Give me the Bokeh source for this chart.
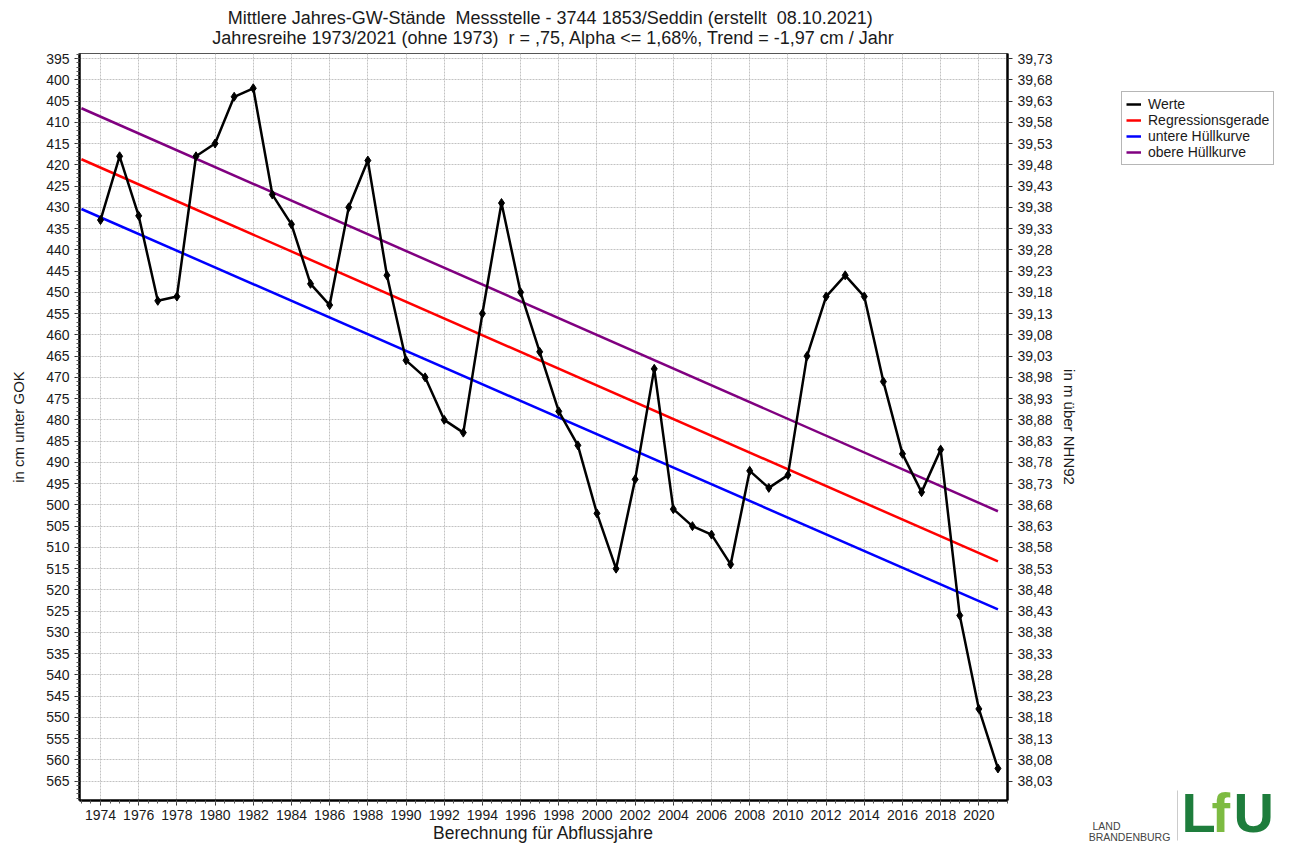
import numpy as np
from bokeh.plotting import figure
from bokeh.layouts import column, row
from bokeh.models import Range1d, LinearAxis, FixedTicker, Label, Legend, LegendItem, BoxAnnotation
from bokeh.embed import file_html
from bokeh.resources import INLINE

# ---------------- data ----------------
years = [1974, 1975, 1976, 1977, 1978, 1979, 1980, 1981, 1982, 1983,
         1984, 1985, 1986, 1987, 1988, 1989, 1990, 1991, 1992, 1993,
         1994, 1995, 1996, 1997, 1998, 1999, 2000, 2001, 2002, 2003,
         2004, 2005, 2006, 2007, 2008, 2009, 2010, 2011, 2012, 2013,
         2014, 2015, 2016, 2017, 2018, 2019, 2020, 2021]
werte_cm = [433, 418, 432, 452, 451, 418, 415, 404, 402, 427,
            434, 448, 453, 430, 419, 446, 466, 470, 480, 483,
            455, 429, 450, 464, 478, 486, 502, 515, 494, 468,
            501, 505, 507, 514, 492, 496, 493, 465, 451, 446,
            451, 471, 488, 497, 487, 526, 548, 562]

trend_years = [1973, 2021]
regression_cm = [418.7, 513.3]
untere_cm = [430.4, 524.6]
obere_cm = [406.7, 501.5]

x_ticks = [1974, 1976, 1978, 1980, 1982, 1984, 1986, 1988, 1990, 1992, 1994, 1996,
           1998, 2000, 2002, 2004, 2006, 2008, 2010, 2012, 2014, 2016, 2018, 2020]
left_ticks = [395, 400, 405, 410, 415, 420, 425, 430, 435, 440, 445, 450, 455, 460,
              465, 470, 475, 480, 485, 490, 495, 500, 505, 510, 515, 520, 525, 530,
              535, 540, 545, 550, 555, 560, 565]
right_tick_labels = ["39,73", "39,68", "39,63", "39,58", "39,53", "39,48", "39,43",
                     "39,38", "39,33", "39,28", "39,23", "39,18", "39,13", "39,08",
                     "39,03", "38,98", "38,93", "38,88", "38,83", "38,78", "38,73",
                     "38,68", "38,63", "38,58", "38,53", "38,48", "38,43", "38,38",
                     "38,33", "38,28", "38,23", "38,18", "38,13", "38,08", "38,03"]

title_1 = "Mittlere Jahres-GW-Stände \u00a0Messstelle - 3744 1853/Seddin (erstellt \u00a008.10.2021)"
title_2 = "Jahresreihe 1973/2021 (ohne 1973) \u00a0r = ,75, Alpha <= 1,68%, Trend = -1,97 cm / Jahr"
series_names = ["Werte", "Regressionsgerade", "untere Hüllkurve", "obere Hüllkurve"]
series_colors = ["black", "#ff0000", "#0000ff", "#800080"]

FONT = "Liberation Sans"
TXT = "#1a1a1a"
TOTAL_W, TOTAL_H = 1274, 846
TOP_H = 51
MAIN_W = 1088


def blank_figure(width, height, xr, yr):
    f = figure(width=width, height=height, output_backend="svg", toolbar_location=None,
               x_axis_type=None, y_axis_type=None, x_range=Range1d(*xr), y_range=Range1d(*yr),
               min_border=0, background_fill_color="white", border_fill_color="white")
    f.outline_line_color = None
    return f


# ---------------- title strip ----------------
top = blank_figure(MAIN_W, TOP_H, (0, MAIN_W), (TOP_H, 0))
top.add_layout(Label(x=552, y=17, text=title_1, text_font=FONT, text_font_size="18px",
                     text_color=TXT, text_align="center", text_baseline="middle"))
top.add_layout(Label(x=556, y=37, text=title_2, text_font=FONT, text_font_size="18px",
                     text_color=TXT, text_align="center", text_baseline="middle"))

# ---------------- main chart ----------------
p = figure(width=MAIN_W, height=TOTAL_H - TOP_H, output_backend="svg", toolbar_location=None,
           x_range=Range1d(1972.9, 2021.5), y_range=Range1d(569.54, 393.82),
           min_border_left=79, min_border_right=MAIN_W - 79 - 928, min_border_top=2,
           min_border_bottom=46, background_fill_color="white", border_fill_color="white")
p.outline_line_color = "#555555"
p.outline_line_width = 1

minor_x = [1973 + 0.5 * i for i in range(0, 98)]
minor_y = list(range(394, 570))

xa = p.xaxis[0]
xa.ticker = FixedTicker(ticks=x_ticks, minor_ticks=minor_x)
xa.axis_label = "Berechnung für Abflussjahre"
ya = p.yaxis[0]
ya.ticker = FixedTicker(ticks=left_ticks, minor_ticks=minor_y)
ya.axis_label = "in cm unter GOK"

ra = LinearAxis(ticker=FixedTicker(ticks=left_ticks, minor_ticks=[]),
                major_label_overrides=dict(zip(left_ticks, right_tick_labels)),
                axis_label="in m über NHN92")
p.add_layout(ra, "right")

for ax in (xa, ya, ra):
    ax.axis_line_width = 2.5
    ax.axis_line_color = "black"
    ax.major_tick_line_color = "#333333"
    ax.minor_tick_line_color = "#555555"
    ax.major_tick_out = 5
    ax.major_tick_in = 0
    ax.minor_tick_out = 3
    ax.minor_tick_in = 0
    ax.major_label_text_font = FONT
    ax.major_label_text_font_size = "14px"
    ax.major_label_text_color = TXT
    ax.axis_label_text_font = FONT
    ax.axis_label_text_font_size = "15px"
    ax.axis_label_text_font_style = "normal"
    ax.axis_label_text_color = TXT
    ax.major_label_standoff = 6

ya.major_label_standoff = 5
ya.axis_label_standoff = 16
ra.major_label_standoff = 5
ra.axis_label_standoff = 5
xa.major_label_standoff = 4
xa.axis_label_standoff = 0
xa.axis_label_text_font_size = "17.5px"

for g in (p.xgrid[0], p.ygrid[0]):
    g.grid_line_color = "#c2c2c2"
    g.grid_line_dash = "2 1"
    g.grid_line_width = 1

p.line(trend_years, regression_cm, line_color=series_colors[1], line_width=2.5)
p.line(trend_years, untere_cm, line_color=series_colors[2], line_width=2.5)
p.line(trend_years, obere_cm, line_color=series_colors[3], line_width=2.5)
p.line(years, werte_cm, line_color=series_colors[0], line_width=2.5)
p.scatter(years, werte_cm, marker="diamond", size=9, color="black")

# ---------------- side strip: legend + logos ----------------
side = blank_figure(TOTAL_W - MAIN_W, TOTAL_H, (MAIN_W, TOTAL_W), (TOTAL_H, 0))
items = []
for name, col in zip(series_names, series_colors):
    r = side.line(np.array([np.nan]), np.array([np.nan]), line_color=col, line_width=2.5)
    items.append(LegendItem(label=name, renderers=[r]))
legend = Legend(items=items, location=(1121 - MAIN_W, TOTAL_H - 165))
legend.label_text_font = FONT
legend.label_text_font_size = "14px"
legend.label_text_color = TXT
legend.glyph_width = 15
legend.glyph_height = 14
legend.label_height = 14
legend.spacing = 0
legend.padding = 4
legend.margin = 0
legend.label_standoff = 7
legend.border_line_color = "#6e6e6e"
legend.border_line_width = 1.5
legend.background_fill_color = "white"
legend.background_fill_alpha = 1
side.add_layout(legend)

side.add_layout(Label(x=1106, y=825, text="LAND", text_font=FONT, text_font_size="10.5px",
                      text_color="#444444", text_align="center", text_baseline="middle"))
side.add_layout(Label(x=1129, y=836, text="BRANDENBURG", text_font=FONT, text_font_size="10.5px",
                      text_color="#444444", text_align="center", text_baseline="middle"))
side.add_layout(BoxAnnotation(left=1176.5, right=1177.5, top=790, bottom=840,
                              fill_color="#cccccc", fill_alpha=1, line_alpha=0))
for txt, xx, col in (("L", 1181, "#1e7d3c"), ("f", 1211, "#7dbb42"), ("U", 1233, "#1e7d3c")):
    side.add_layout(Label(x=xx, y=812, text=txt, text_font=FONT, text_font_size="56px",
                          text_font_style="bold", text_color=col,
                          text_align="left", text_baseline="middle"))

layout = row(column(top, p), side)
open("out.html", "w").write(file_html(layout, INLINE))
